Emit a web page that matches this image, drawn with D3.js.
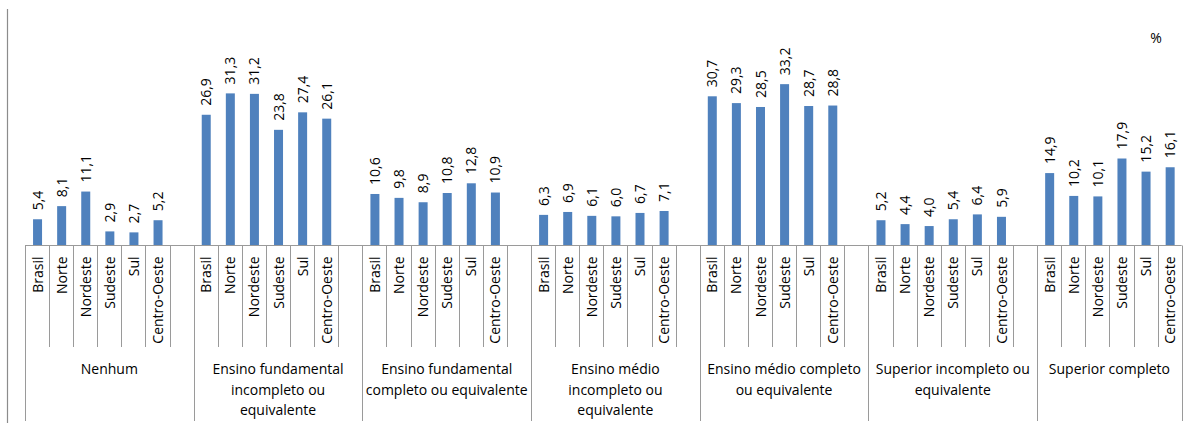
<!DOCTYPE html>
<html><head><meta charset="utf-8">
<script src="https://cdn.jsdelivr.net/npm/d3@7"></script>
<style>
body{margin:0;background:#fff;}
svg{display:block;}
text{font-family:"Open Sans",sans-serif;fill:#000;}
</style></head>
<body>
<script>
const regions = ["Brasil","Norte","Nordeste","Sudeste","Sul","Centro-Oeste"];
const groupLabels = [
  ["Nenhum"],
  ["Ensino fundamental","incompleto ou","equivalente"],
  ["Ensino fundamental","completo ou equivalente"],
  ["Ensino médio","incompleto ou","equivalente"],
  ["Ensino médio completo","ou equivalente"],
  ["Superior incompleto ou","equivalente"],
  ["Superior completo"]
];
const valNenhum = [5.4, 8.1, 11.1, 2.9, 2.7, 5.2];
const valFundInc = [26.9, 31.3, 31.2, 23.8, 27.4, 26.1];
const valFundComp = [10.6, 9.8, 8.9, 10.8, 12.8, 10.9];
const valMedInc = [6.3, 6.9, 6.1, 6.0, 6.7, 7.1];
const valMedComp = [30.7, 29.3, 28.5, 33.2, 28.7, 28.8];
const valSupInc = [5.2, 4.4, 4.0, 5.4, 6.4, 5.9];
const valSupComp = [14.9, 10.2, 10.1, 17.9, 15.2, 16.1];
const groupValues = [valNenhum, valFundInc, valFundComp, valMedInc, valMedComp, valSupInc, valSupComp];
const unitLabel = "%";

const W = 1197, H = 423;
const svg = d3.select("body").append("svg").attr("width", W).attr("height", H);

// build slots: 6 regions per group + blank slot between groups
const slots = [];
groupValues.forEach((vals, g) => {
  regions.forEach((r, i) => slots.push({key: g + "-" + i, g, region: r, value: vals[i], first: i === 0}));
  if (g < groupValues.length - 1) slots.push({key: g + "-blank", g, blank: true});
});

const baseY = 245.5;
const x = d3.scaleBand().domain(slots.map(d => d.key)).range([25, 1181.7]).padding(0);
const y = d3.scaleLinear().domain([0, 35]).range([baseY, baseY - 35 * 4.86]);
const bw = x.bandwidth();
const barW = 9;
const grey = "#9a9a9a";

// chart border left line
svg.append("line").attr("x1", 7.5).attr("x2", 7.5).attr("y1", 9).attr("y2", H)
  .attr("stroke", "#8c8c8c").attr("stroke-width", 1.2);

// bars
const bars = slots.filter(d => !d.blank);
svg.append("g").selectAll("rect").data(bars).join("rect")
  .attr("x", d => x(d.key) + bw / 2 - barW / 2 + 0.5)
  .attr("width", barW)
  .attr("y", d => y(d.value))
  .attr("height", d => y(0) - y(d.value))
  .attr("fill", "#4F81BD");

// value labels
svg.append("g").selectAll("text").data(bars).join("text")
  .attr("transform", d => `translate(${x(d.key) + bw / 2 + 0.5},${y(d.value) - 9}) rotate(-90)`)
  .attr("dy", "0.36em")
  .attr("font-size", 14)
  .attr("text-anchor", "start")
  .text(d => d.value.toFixed(1).replace(".", ","));

// axis line
svg.append("line").attr("x1", x.range()[0]).attr("x2", x.range()[1])
  .attr("y1", baseY).attr("y2", baseY).attr("stroke", grey).attr("stroke-width", 1);

// ticks
const tickData = slots.map((d, i) => ({pos: x(d.key), long: d.first}));
tickData.push({pos: x.range()[1], long: true});
svg.append("g").selectAll("line").data(tickData).join("line")
  .attr("x1", d => Math.round(d.pos) + 0.5).attr("x2", d => Math.round(d.pos) + 0.5)
  .attr("y1", baseY).attr("y2", d => d.long ? 421 : 347)
  .attr("stroke", grey).attr("stroke-width", 1);

// region labels
svg.append("g").selectAll("text").data(bars).join("text")
  .attr("transform", d => `translate(${x(d.key) + bw / 2 + 0.5},256.5) rotate(-90)`)
  .attr("dy", "0.36em")
  .attr("font-size", 14)
  .attr("text-anchor", "end")
  .text(d => d.region);

// group labels
groupLabels.forEach((lines, g) => {
  const gs = slots.filter(s => s.g === g);
  const x0 = x(gs[0].key), x1 = x(gs[gs.length - 1].key) + bw;
  const t = svg.append("text").attr("x", (x0 + x1) / 2).attr("y", 374)
    .attr("text-anchor", "middle").attr("font-size", 14);
  lines.forEach((l, i) => t.append("tspan").attr("x", (x0 + x1) / 2).attr("dy", i === 0 ? 0 : 20.5).text(l));
});

// unit
svg.append("text").attr("x", 1156).attr("y", 43).attr("text-anchor", "middle")
  .attr("font-size", 14).text(unitLabel);
</script>
</body></html>
